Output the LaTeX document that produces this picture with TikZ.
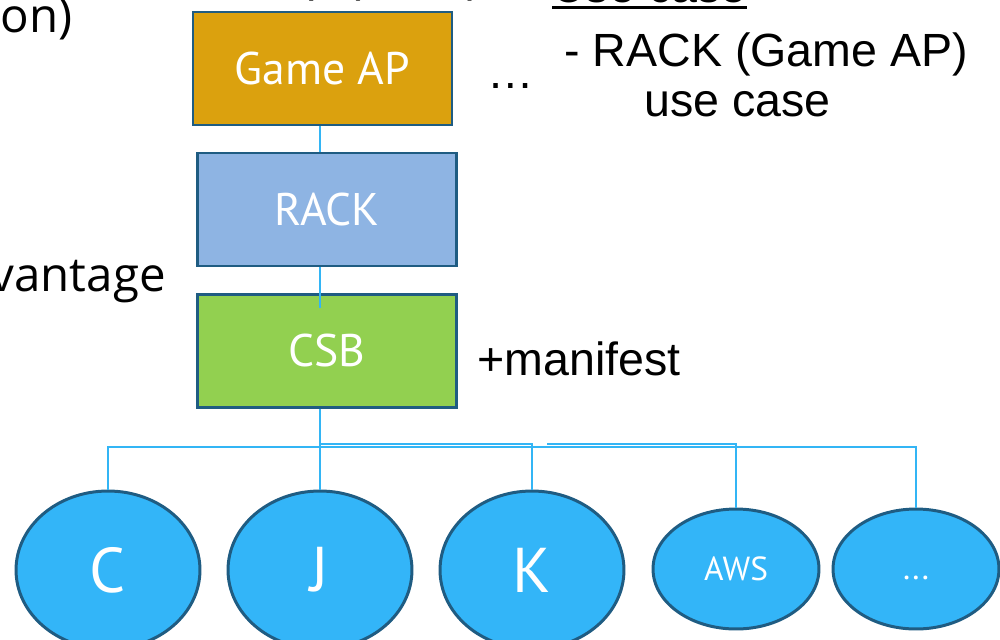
\documentclass[tikz,border=0pt]{standalone}
\usepackage{fontspec}
\setmainfont{Liberation Sans}
\newfontfamily\boxfont{PT Sans}
\newfontfamily\sidefont{Open Sans}
\usetikzlibrary{shapes.geometric}
\definecolor{gold}{HTML}{DBA10E}
\definecolor{rackblue}{HTML}{8EB4E3}
\definecolor{csbgreen}{HTML}{92D050}
\definecolor{edge}{HTML}{1F5C82}
\definecolor{leafblue}{HTML}{33B5F8}
\definecolor{wireblue}{HTML}{33B5F5}
\begin{document}
\begin{tikzpicture}[x=0.02cm, y=-0.02cm,
	box/.style={draw=edge, line width=1.6pt, minimum width=5.18cm, minimum height=2.26cm, inner sep=0pt, text=white, font=\boxfont\fontsize{26}{30}\selectfont},
	leaf/.style={ellipse, draw=edge, fill=leafblue, line width=1.7pt, inner sep=0pt, text=white, font=\boxfont\fontsize{36}{40}\selectfont, minimum width=3.68cm, minimum height=3.16cm},
	smallleaf/.style={leaf, font=\boxfont\fontsize{19}{22}\selectfont, minimum width=3.32cm, minimum height=2.4cm},
	wire/.style={draw=wireblue, line width=1.1pt},
	note/.style={inner sep=0pt, anchor=base west, font=\fontsize{26.5}{32}\selectfont},
	side/.style={note, font=\sidefont\fontsize{27}{32}\selectfont}]
	\useasboundingbox (0,0) rectangle (1000,639);
	\clip (0,0) rectangle (1000,639);
	\node[box, fill=gold] (game) at (322.5,68.5) {Game AP};
	\node[box, fill=rackblue] (rack) at (327,209.5) {RACK};
	\node[box, fill=csbgreen] (csb) at (327,351) {CSB};
	\node[leaf] (c) at (108,570) {C};
	\node[leaf] (j) at (320,570) {J};
	\node[leaf] (k) at (532,570) {K};
	\node[smallleaf] (aws) at (736,569) {AWS};
	\node[smallleaf] (more) at (916,569) {\raisebox{-0.3em}[0pt][0pt]{...}};
	\coordinate (spine) at (320,0);
	\coordinate (hub) at (320,447);
	\coordinate (hubk) at (320,444);
	\coordinate (tap) at (547,444);
	\draw[wire] (game.south -| spine) -- (rack.north -| spine);
	\draw[wire] (rack.south -| spine) -- ([yshift=-0.3cm]csb.north -| spine);
	\draw[wire] (csb.south -| spine) -- (hub);
	\draw[wire] (hub) -| (c.north);
	\draw[wire] (hub) -- (j.north);
	\draw[wire] (hub) -| (more.north);
	\draw[wire] (hubk) -| (k.north);
	\draw[wire] (tap) -| (aws.north);
	\node[side] (on) at (0,32) {on)};
	\node[side, anchor=base east] (vantage) at (166,291) {vantage};
	\node[note] (cut) at (306,-9) {p (\hspace{2.3em})};
	\node[note] (usecase) at (552,2.5) {Use case};
	\draw[line width=1.6pt] ([yshift=-3pt]usecase.base west) -- ([yshift=-3pt]usecase.base east);
	\node[note] (etc) at (487,88) {\dots};
	\node[note] (rackuse) at (564,66) {- RACK (Game AP)};
	\node[note] (usecase2) at (644,116) {use case};
	\node[note] (manifest) at (477,375) {+manifest};
\end{tikzpicture}
\end{document}
